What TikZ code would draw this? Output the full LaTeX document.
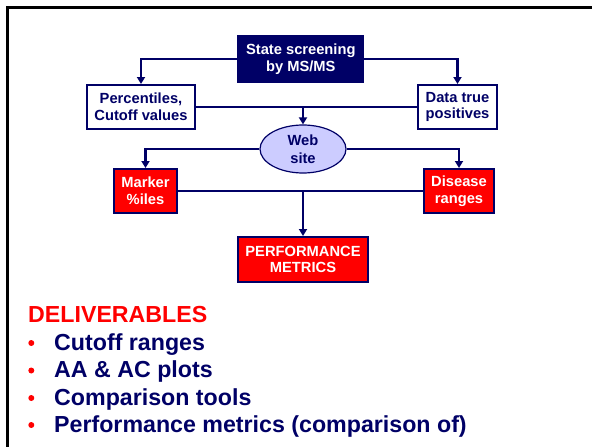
\documentclass[tikz,border=0pt]{standalone}
\usepackage{fontspec}
\setmainfont{Liberation Sans}
\usetikzlibrary{arrows.meta,shapes.geometric}
\definecolor{navy}{RGB}{0,0,102}
\definecolor{lav}{RGB}{204,204,255}
\definecolor{rd}{RGB}{255,0,0}
\tikzset{
  boxtext/.style={font=\fontsize{14.7}{16.7}\selectfont\bfseries, align=center, inner sep=0pt, line width=2pt},
  darkbox/.style={boxtext, rectangle, draw=navy, fill=navy, text=white},
  whitebox/.style={boxtext, rectangle, draw=navy, fill=white, text=navy},
  redbox/.style={boxtext, rectangle, draw=navy, fill=rd, text=white},
  webnode/.style={boxtext, font=\fontsize{14.7}{18.5}\selectfont\bfseries, ellipse, draw=navy, fill=lav, text=navy, line width=1.2pt},
  link/.style={draw=navy, line width=2.2pt},
  arr/.style={link, -{Triangle[length=7pt,width=8pt]}},
  bigtext/.style={font=\fontsize{23.2}{27}\selectfont\bfseries, inner sep=0pt, anchor=base west},
}
\begin{document}
\begin{tikzpicture}[x=1pt,y=-1pt]
\useasboundingbox (0,0) rectangle (592,447);
\draw[line width=2.6pt, black] (7.5,447) -- (7.5,7.5) -- (592,7.5);
\node[darkbox, minimum width=125pt, minimum height=46pt] (ss) at (300.8,59) {State screening\\by MS/MS};
\node[whitebox, minimum width=108pt, minimum height=44pt] (pc) at (141,107) {Percentiles,\\Cutoff values};
\node[whitebox, minimum width=79pt, minimum height=44pt] (dt) at (457.5,107) {Data true\\positives};
\node[webnode, minimum width=86pt, minimum height=48pt] (web) at (303,149) {Web\\site};
\node[redbox, minimum width=63pt, minimum height=44pt] (mk) at (145.5,191) {Marker\\\%iles};
\node[redbox, minimum width=70pt, minimum height=44pt] (ds) at (459,191) {Disease\\ranges};
\node[redbox, minimum width=130pt, minimum height=45pt] (pm) at (303,259.5) {PERFORMANCE\\METRICS};
\draw[arr] (ss.west) -| (pc.north);
\draw[arr] (ss.east) -| (dt.north);
\draw[link] (pc.east) -- (dt.west);
\draw[arr] (pc.east -| web.north) -- (web.north);
\draw[arr] (web.west) -| (mk.north);
\draw[arr] (web.east) -| (ds.north);
\draw[link] (mk.east) -- (ds.west);
\draw[arr] (mk.east -| pm.north) -- (pm.north);
\node[bigtext, text=rd] (dl) at (28,322) {DELIVERABLES};
\node[bigtext, text=navy] (b1) at (54,350) {Cutoff ranges};
\node[bigtext, text=navy] (b2) at (54,377.5) {AA \& AC plots};
\node[bigtext, text=navy] (b3) at (54,405) {Comparison tools};
\node[bigtext, text=navy] (b4) at (54,432) {Performance metrics (comparison of)};
\foreach \yy in {350,377.5,405,432}{
  \fill[rd] (31.3,\yy-7) circle (3pt);
}
\end{tikzpicture}
\end{document}
